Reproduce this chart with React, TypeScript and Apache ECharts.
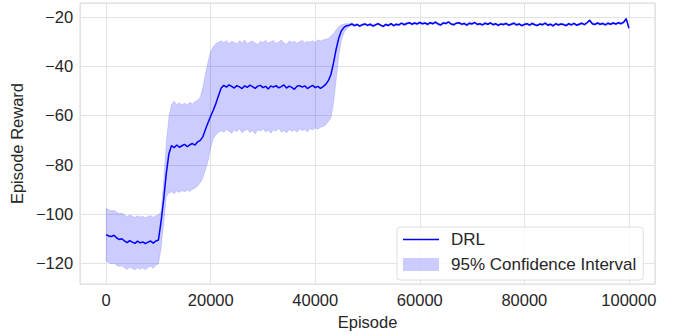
import React, { useEffect, useRef } from 'react';
import * as echarts from 'echarts';

// Episodes are sampled every 500 steps from 0 to 100000
const EPISODE_STEP = 500;

const meanReward: number[] = [
  // 0 - 10000
  -108.3, -108.9, -109.1, -108.6, -109.7, -110.3, -110.0, -110.9, -111.6, -110.8,
  -111.4, -111.9, -111.0, -111.7, -111.3, -112.0, -111.4, -110.9, -111.8, -110.9,
  -110.5,
  // 10500 - 22000
  -103.0, -94.0, -83.5, -75.5, -72.2, -73.1, -72.0, -72.9, -72.3, -71.7,
  -72.7, -71.9, -71.4, -72.0, -70.7, -70.1, -68.6, -65.6, -62.9, -60.2,
  -57.8, -55.1, -51.9, -48.9,
  // 22500 - 41500
  -47.8, -48.5, -47.6, -48.2, -48.9, -47.9, -48.4, -49.1, -48.0, -48.6,
  -47.7, -48.3, -49.0, -48.1, -47.8, -48.7, -48.2, -49.3, -48.0, -48.5,
  -47.9, -48.8, -48.3, -47.6, -48.9, -48.1, -48.6, -49.4, -48.2, -47.9,
  -48.5, -48.0, -49.1, -48.4, -47.8, -48.7, -48.2, -49.0, -48.3,
  // 42000 - 47000
  -47.4, -45.9, -43.4, -38.6, -33.1, -28.6, -25.7, -24.3, -23.6, -23.4, -22.9,
  // 47500 - 100000
  -23.6, -23.1, -23.8, -23.2, -22.9, -23.5, -23.0, -23.7, -23.3, -22.8,
  -23.4, -23.9, -23.1, -23.5, -22.8, -23.6, -23.0, -23.3, -22.6, -23.2,
  -22.7, -22.4, -23.0, -22.5, -22.9, -22.3, -22.8, -22.5, -23.1, -22.4,
  -22.8, -22.2, -22.9, -23.3, -22.5, -22.7, -22.1, -22.9, -23.2, -22.6,
  -22.4, -23.0, -22.7, -23.4, -22.6, -22.9, -22.3, -23.1, -22.8, -23.3,
  -22.6, -23.0, -22.5, -23.2, -22.8, -23.5, -22.9, -23.1, -22.7, -23.4,
  -23.0, -22.6, -23.3, -22.9, -23.6, -23.1, -22.8, -23.4, -22.7, -23.2,
  -23.5, -22.9, -23.2, -22.6, -23.4, -23.0, -23.7, -22.8, -23.3, -22.9,
  -23.1, -23.6, -22.8, -23.3, -22.7, -23.4, -23.0, -22.6, -23.2, -22.4,
  -21.4, -22.8, -23.1, -22.5, -23.0, -22.7, -23.3, -22.6, -23.0, -22.5,
  -22.9, -22.4, -22.8, -22.2, -20.8, -24.6,
];

const upperCI: number[] = [
  -97.6, -98.2, -98.7, -98.4, -99.3, -99.8, -99.6, -100.3, -101.0, -100.4,
  -100.8, -101.4, -100.7, -101.2, -100.9, -101.5, -101.0, -100.6, -101.3, -100.7,
  -100.4,
  -99.0, -86.5, -71.0, -60.5, -55.5, -54.2, -55.6, -54.9, -55.8, -55.0,
  -55.7, -54.6, -55.4, -54.3, -53.8, -52.6, -48.5, -43.0, -38.0, -34.0,
  -32.0, -30.8, -30.3, -29.7,
  -30.4, -29.6, -30.8, -29.9, -30.3, -31.0, -29.7, -30.5, -29.4, -30.9,
  -30.1, -29.8, -30.6, -31.2, -29.9, -30.4, -29.5, -30.7, -30.0, -29.6,
  -30.8, -30.2, -29.4, -30.5, -31.1, -29.8, -30.3, -29.9, -30.7, -30.1,
  -29.5, -30.6, -29.9, -30.2, -29.7, -30.4, -29.3, -29.8, -29.4,
  -29.0, -28.8, -27.8, -26.8, -25.2, -24.0, -23.2, -22.9, -22.8, -22.8, -22.4,
  -23.2, -22.7, -23.4, -22.8, -22.5, -23.1, -22.6, -23.3, -22.9, -22.4,
  -23.0, -23.5, -22.7, -23.1, -22.4, -23.2, -22.6, -22.9, -22.2, -22.8,
  -22.3, -22.0, -22.6, -22.1, -22.5, -21.9, -22.4, -22.1, -22.7, -22.0,
  -22.4, -21.8, -22.5, -22.9, -22.1, -22.3, -21.7, -22.5, -22.8, -22.2,
  -22.0, -22.6, -22.3, -23.0, -22.2, -22.5, -21.9, -22.7, -22.4, -22.9,
  -22.2, -22.6, -22.1, -22.8, -22.4, -23.1, -22.5, -22.7, -22.3, -23.0,
  -22.6, -22.2, -22.9, -22.5, -23.2, -22.7, -22.4, -23.0, -22.3, -22.8,
  -23.1, -22.5, -22.8, -22.2, -23.0, -22.6, -23.3, -22.4, -22.9, -22.5,
  -22.7, -23.2, -22.4, -22.9, -22.3, -23.0, -22.6, -22.2, -22.8, -22.0,
  -21.0, -22.4, -22.7, -22.1, -22.6, -22.3, -22.9, -22.2, -22.6, -22.1,
  -22.5, -22.0, -22.4, -21.8, -20.4, -24.2,
];

const lowerCI: number[] = [
  -119.1, -119.6, -120.2, -119.8, -120.9, -121.3, -121.0, -121.8, -122.5, -121.6,
  -122.1, -122.7, -121.8, -122.4, -121.9, -122.6, -121.7, -121.2, -122.0, -120.8,
  -120.2,
  -114.0, -104.0, -93.0, -91.6, -90.9, -91.8, -90.6, -91.3, -90.4, -91.0,
  -90.2, -90.8, -89.9, -89.5, -88.6, -87.3, -85.3, -82.0, -78.5, -73.0,
  -69.5, -67.8, -66.8, -66.2,
  -66.8, -65.7, -66.4, -67.3, -65.9, -66.6, -65.4, -67.0, -66.1, -65.6,
  -66.9, -66.2, -67.5, -65.8, -66.4, -65.5, -66.7, -66.0, -67.2, -65.9,
  -66.3, -65.2, -66.8, -66.0, -67.1, -65.7, -66.5, -65.9, -66.8, -65.4,
  -66.2, -65.6, -66.7, -65.3, -65.9, -65.1, -65.6, -64.8, -64.5,
  -63.8, -62.5, -61.0, -55.0, -45.5, -36.0, -29.5, -26.5, -24.8, -24.1, -23.5,
  -24.0, -23.5, -24.2, -23.6, -23.3, -23.9, -23.4, -24.1, -23.7, -23.2,
  -23.8, -24.3, -23.5, -23.9, -23.2, -24.0, -23.4, -23.7, -23.0, -23.6,
  -23.1, -22.8, -23.4, -22.9, -23.3, -22.7, -23.2, -22.9, -23.5, -22.8,
  -23.2, -22.6, -23.3, -23.7, -22.9, -23.1, -22.5, -23.3, -23.6, -23.0,
  -22.8, -23.4, -23.1, -23.8, -23.0, -23.3, -22.7, -23.5, -23.2, -23.7,
  -23.0, -23.4, -22.9, -23.6, -23.2, -23.9, -23.3, -23.5, -23.1, -23.8,
  -23.4, -23.0, -23.7, -23.3, -24.0, -23.5, -23.2, -23.8, -23.1, -23.6,
  -23.9, -23.3, -23.6, -23.0, -23.8, -23.4, -24.1, -23.2, -23.7, -23.3,
  -23.5, -24.0, -23.2, -23.7, -23.1, -23.8, -23.4, -23.0, -23.6, -22.8,
  -21.8, -23.2, -23.5, -22.9, -23.4, -23.1, -23.7, -23.0, -23.4, -22.9,
  -23.3, -22.8, -23.2, -22.6, -21.2, -25.0,
];

const episodes: number[] = meanReward.map((_, i) => i * EPISODE_STEP);

const X_MIN = -5000;
const X_MAX = 105000;
const Y_MIN = -128.4;
const Y_MAX = -14.4;

const FONT = "'Liberation Sans', Arial, Helvetica, sans-serif";
const TEXT_COLOR = '#262626';

export default function App() {
  const ref = useRef<HTMLDivElement>(null);

  useEffect(() => {
    if (!ref.current) return;
    const chart = echarts.init(ref.current, undefined, { renderer: 'svg' });

    const fmt = (v: number) => String(Math.round(v)).replace('-', '\u2212');

    chart.setOption({
      animation: false,
      backgroundColor: '#ffffff',
      textStyle: { fontFamily: FONT },
      grid: {
        left: 78,
        right: 18,
        top: 3,
        bottom: 46,
        show: true,
        borderColor: '#d4d4d4',
        borderWidth: 1,
        backgroundColor: 'transparent',
      },
      xAxis: {
        type: 'value',
        min: X_MIN,
        max: X_MAX,
        splitNumber: 5,
        name: 'Episode',
        nameLocation: 'middle',
        nameGap: 24,
        nameTextStyle: { fontSize: 16.5, color: TEXT_COLOR, fontFamily: FONT },
        axisLine: { show: false },
        axisTick: { show: false },
        axisLabel: {
          fontSize: 16.5,
          color: TEXT_COLOR,
          fontFamily: FONT,
          margin: 7,
          showMinLabel: false,
          showMaxLabel: false,
          formatter: (v: number) => fmt(v),
        },
        splitLine: { show: true, lineStyle: { color: '#e3e3e3', width: 1 } },
      },
      yAxis: {
        type: 'value',
        min: Y_MIN,
        max: Y_MAX,
        splitNumber: 5,
        name: 'Episode Reward',
        nameLocation: 'middle',
        nameGap: 48,
        nameTextStyle: { fontSize: 16.5, color: TEXT_COLOR, fontFamily: FONT },
        axisLine: { show: false },
        axisTick: { show: false },
        axisLabel: {
          fontSize: 16.5,
          color: TEXT_COLOR,
          fontFamily: FONT,
          margin: 7,
          showMinLabel: false,
          showMaxLabel: false,
          formatter: (v: number) => (Math.abs(v % 20) < 1e-6 ? fmt(v) : ''),
        },
        splitLine: { show: true, lineStyle: { color: '#e3e3e3', width: 1 } },
      },
      legend: {
        orient: 'vertical',
        left: 397,
        top: 227,
        data: [
          { name: 'DRL', icon: 'path://M0,0 L36,0 L36,1.5 L0,1.5 Z' },
          { name: '95% Confidence Interval', icon: 'rect' },
        ],
        itemWidth: 36,
        itemHeight: 13,
        itemGap: 8,
        padding: [4, 7, 7, 6],
        backgroundColor: 'rgba(255,255,255,0.8)',
        borderColor: '#dedede',
        borderWidth: 1,
        borderRadius: 3,
        selectedMode: false,
        textStyle: {
          fontSize: 17,
          color: TEXT_COLOR,
          fontFamily: FONT,
          padding: [0, 0, 0, 7],
        },
      },
      series: [
        {
          type: 'custom',
          name: '95% Confidence Interval',
          data: episodes.map((e, i) => [e, lowerCI[i], upperCI[i]]),
          encode: { x: 0, y: [1, 2] },
          itemStyle: { color: 'rgba(0,0,255,0.2)' },
          clip: true,
          z: 1,
          renderItem: (params: any, api: any) => {
            if (params.dataIndex !== 0) return null;
            const pts: number[][] = [];
            for (let i = 0; i < episodes.length; i++) {
              pts.push(api.coord([episodes[i], upperCI[i]]));
            }
            for (let i = episodes.length - 1; i >= 0; i--) {
              pts.push(api.coord([episodes[i], lowerCI[i]]));
            }
            return {
              type: 'polygon',
              shape: { points: pts },
              style: {
                fill: 'rgba(0,0,255,0.2)',
                stroke: 'rgba(0,0,255,0.12)',
                lineWidth: 1,
              },
            };
          },
        },
        {
          type: 'line',
          name: 'DRL',
          data: episodes.map((e, i) => [e, meanReward[i]]),
          symbol: 'none',
          showSymbol: false,
          z: 3,
          lineStyle: { color: '#0000ff', width: 1.5 },
          itemStyle: { color: '#0000ff' },
        },
      ],
    });

    return () => {
      chart.dispose();
    };
  }, []);

  return (
    <div
      ref={ref}
      style={{ position: 'fixed', left: 0, top: 0, width: 673, height: 335, background: '#fff' }}
    />
  );
}
